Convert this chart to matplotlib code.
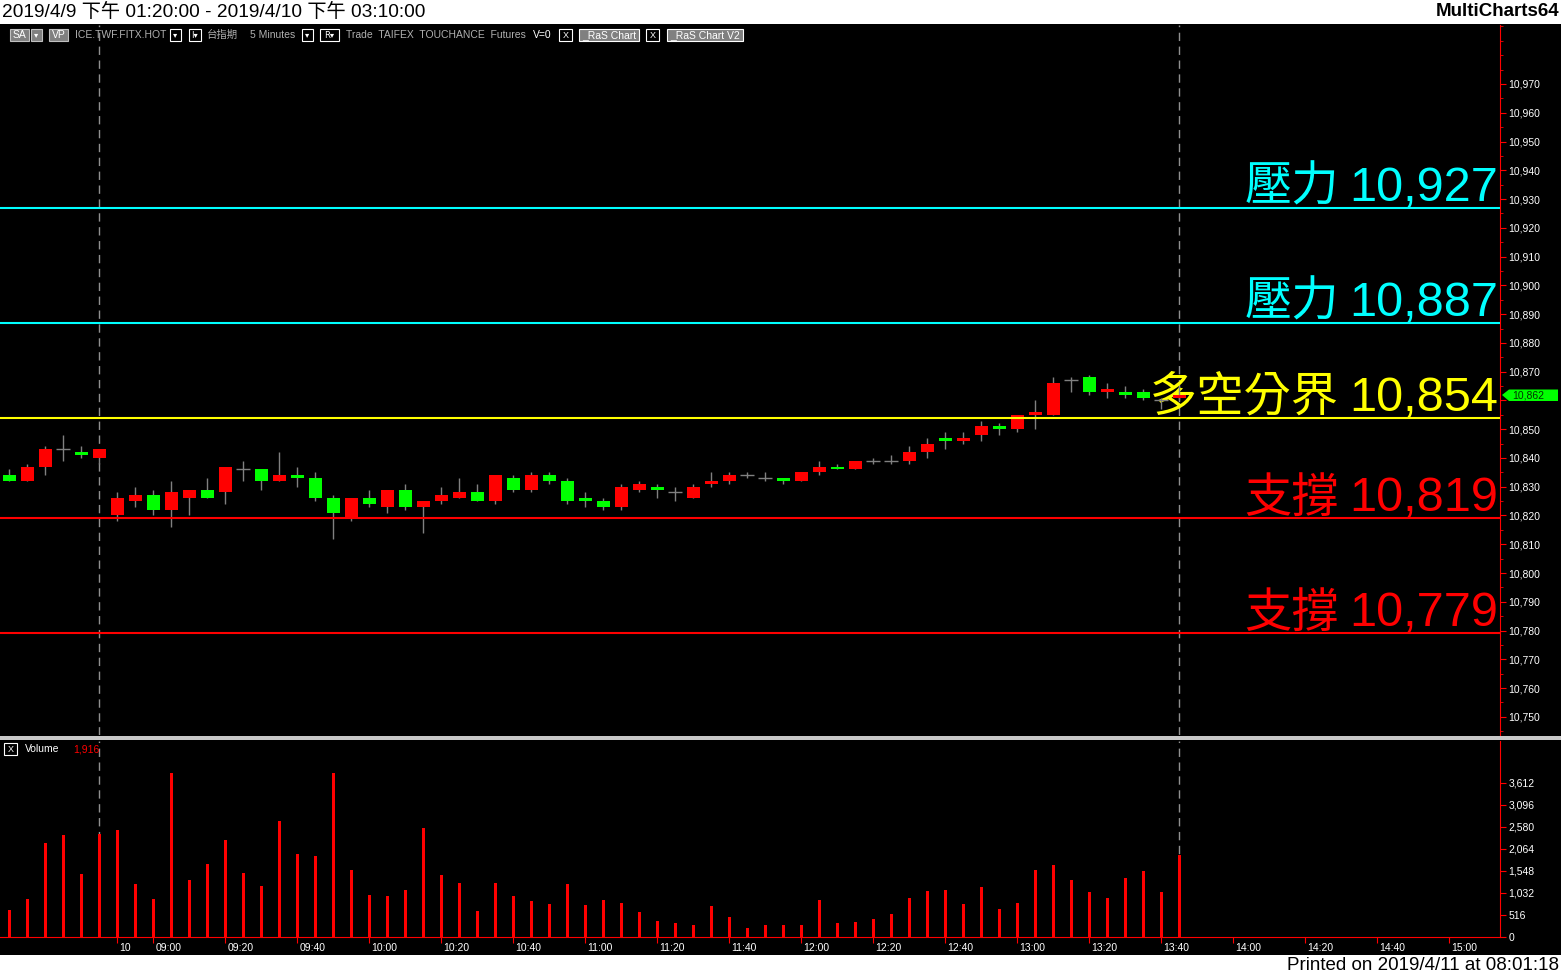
import matplotlib
matplotlib.use('Agg')
import matplotlib.pyplot as plt
from matplotlib.patches import Rectangle, Polygon
from matplotlib.ticker import FixedLocator, MultipleLocator

plt.rcParams['font.family'] = ['Liberation Sans', 'Noto Sans CJK TC', 'DejaVu Sans']

W, H = 1561, 977

# 5分K (台指期), 2019/4/9 13:20 ~ 2019/4/10 13:45
opens = [10834, 10832, 10837, 10843, 10842, 10840, 10820, 10825, 10827, 10822,
         10826, 10829, 10828, 10836, 10836, 10832, 10834, 10833, 10826, 10819,
         10826, 10823, 10829, 10823, 10825, 10826, 10828, 10825, 10833, 10829,
         10834, 10832, 10826, 10825, 10823, 10829, 10830, 10828, 10826, 10831,
         10832, 10834, 10833, 10833, 10832, 10835, 10837, 10836, 10839, 10839,
         10839, 10842, 10847, 10846, 10848, 10851, 10850, 10855, 10855, 10867,
         10868, 10863, 10863, 10863, 10860, 10861]
highs = [10836, 10838, 10844, 10848, 10844, 10843, 10828, 10830, 10829, 10832,
         10829, 10833, 10837, 10839, 10836, 10842, 10837, 10835, 10827, 10826,
         10829, 10829, 10831, 10825, 10830, 10833, 10831, 10834, 10834, 10835,
         10835, 10833, 10828, 10826, 10831, 10832, 10831, 10830, 10831, 10835,
         10835, 10835, 10835, 10833, 10835, 10839, 10838, 10839, 10840, 10841,
         10844, 10847, 10849, 10849, 10853, 10852, 10855, 10860, 10868, 10868,
         10869, 10866, 10865, 10864, 10861, 10865]
lows = [10832, 10832, 10834, 10839, 10840, 10838, 10818, 10823, 10820, 10816,
        10820, 10826, 10824, 10832, 10829, 10832, 10830, 10825, 10812, 10818,
        10823, 10821, 10822, 10814, 10824, 10826, 10825, 10824, 10828, 10828,
        10831, 10824, 10823, 10822, 10822, 10828, 10826, 10825, 10826, 10830,
        10831, 10833, 10832, 10831, 10832, 10834, 10836, 10836, 10838, 10838,
        10838, 10840, 10843, 10845, 10846, 10848, 10849, 10850, 10855, 10863,
        10862, 10861, 10861, 10860, 10857, 10860]
closes = [10832, 10837, 10843, 10843, 10841, 10843, 10826, 10827, 10822, 10828,
          10829, 10826, 10837, 10836, 10832, 10834, 10833, 10826, 10821, 10826,
          10824, 10829, 10823, 10825, 10827, 10828, 10825, 10834, 10829, 10834,
          10832, 10825, 10825, 10823, 10830, 10831, 10829, 10828, 10830, 10832,
          10834, 10834, 10833, 10832, 10835, 10837, 10836, 10839, 10839, 10839,
          10842, 10845, 10846, 10847, 10851, 10850, 10855, 10856, 10866, 10867,
          10863, 10864, 10862, 10861, 10860, 10862]
volumes = [639, 896, 2207, 2394, 1481, 2417, 2511, 1247, 896, 3845,
           1341, 1715, 2277, 1505, 1200, 2721, 1949, 1902, 3845, 1575,
           990, 966, 1107, 2558, 1458, 1271, 615, 1271, 966, 849,
           779, 1247, 756, 873, 803, 592, 381, 335, 288, 732,
           475, 218, 288, 288, 288, 873, 335, 358, 428, 545,
           920, 1083, 1107, 779, 1177, 662, 803, 1575, 1692, 1341,
           1060, 920, 1388, 1551, 1060, 1916]

time_ticks = [6, 8, 12, 16, 20, 24, 28, 32, 36, 40, 44, 48, 52, 56, 60, 64, 68, 72, 76, 80]
time_labels = ['10', '09:00', '09:20', '09:40', '10:00', '10:20', '10:40', '11:00',
               '11:20', '11:40', '12:00', '12:20', '12:40', '13:00', '13:20', '13:40',
               '14:00', '14:20', '14:40', '15:00']
session_lines = [5, 65]

levels = [10927, 10887, 10854, 10819, 10779]
level_names = ['壓力', '壓力', '多空分界', '支撐', '支撐']
level_colors = ['#00FFFF', '#00FFFF', '#FFFF00', '#FF0000', '#FF0000']

price_ticks = list(range(10750, 10971, 10))
vol_ticks = [0, 516, 1032, 1548, 2064, 2580, 3096, 3612]
last_price = 10862
last_volume = 1916


def fx(x):
    return x / W


def fy(y):
    return 1 - y / H


def add_ax(x0, y0, x1, y1):
    return fig.add_axes([fx(x0), fy(y1), (x1 - x0) / W, (y1 - y0) / H])


def fbox(x0, y0, x1, y1, fc, ec='white', lw=0.8):
    fig.add_artist(Rectangle((fx(x0), fy(y1)), (x1 - x0) / W, (y1 - y0) / H,
                             transform=fig.transFigure, facecolor=fc, edgecolor=ec, lw=lw))


def ftext(x, y, s, **kw):
    kw.setdefault('va', 'center')
    kw.setdefault('fontsize', 7.5)
    fig.text(fx(x), fy(y), s, **kw)


def xd(px):
    # pixel -> bar index
    return (px - 9.3) / 18.0


fig = plt.figure(figsize=(W / 100, H / 100), dpi=100, facecolor='white')
fig.add_artist(Rectangle((0, fy(955)), 1, fy(24) - fy(955), transform=fig.transFigure,
                         facecolor='black', edgecolor='none', zorder=0))

# ---- 價格區 ----
ax = add_ax(0, 25, 1500, 735)
ax.set_facecolor('black')
ax.set_xlim(xd(0), xd(1500))
ax.set_ylim(10743.7, 10990.5)

for i in range(len(opens)):
    o, h, l, c = opens[i], highs[i], lows[i], closes[i]
    ax.vlines(i, l, h, color='#808080', lw=1, zorder=3)
    if o == c:
        ax.hlines(o, i - 0.38, i + 0.38, color='#808080', lw=1, zorder=3.5)
    else:
        col = '#FF0000' if c > o else '#00FF00'
        ax.bar(i, abs(c - o), bottom=min(o, c), width=0.72, color=col, lw=0, zorder=3.5)

for lv, nm, col in zip(levels, level_names, level_colors):
    ax.axhline(lv, color=col, lw=1.5, zorder=4)
    yb = lv + 7 / 2.877
    ax.text(xd(1498), yb, f'{lv:,}', ha='right', va='baseline', fontsize=35, color=col,
            family=['Liberation Sans'], zorder=2.5)
    ax.text(xd(1339), yb, nm, ha='right', va='baseline', fontsize=34, color=col,
            family=['Noto Sans CJK TC'], zorder=2.5)

for s in session_lines:
    ax.axvline(s, color='#909090', lw=1, ls=(0, (6, 4)), zorder=1)

for sp in ['top', 'left', 'bottom']:
    ax.spines[sp].set_visible(False)
ax.spines['right'].set_color('#FF0000')
ax.yaxis.tick_right()
ax.yaxis.set_major_locator(FixedLocator(price_ticks))
ax.yaxis.set_minor_locator(MultipleLocator(5))
# 10,860 被最新價標籤蓋住
ax.set_yticklabels(['' if p == 10860 else f'{p:,}' for p in price_ticks])
ax.tick_params(axis='y', which='major', colors='#FF0000', labelcolor='white', labelsize=7.5,
               length=4, pad=2)
ax.tick_params(axis='y', which='minor', colors='#FF0000', length=2)
ax.set_xticks([])

# 最新價標籤
fig.add_artist(Polygon([(fx(1502), fy(395)), (fx(1509), fy(389.5)), (fx(1558), fy(389.5)),
                        (fx(1558), fy(401)), (fx(1509), fy(401))], closed=True,
                       transform=fig.transFigure, facecolor='#00FF00', edgecolor='none', zorder=6))
ftext(1512, 395.5, f'{last_price:,}', color='#003300', fontsize=7.5, zorder=7)

# 分隔線
fbox(0, 736, W, 740, '#C8C8C8', ec='none')

# ---- 成交量 ----
axv = add_ax(0, 741, 1500, 937)
axv.set_facecolor('black')
axv.set_xlim(xd(0), xd(1500))
axv.set_ylim(0, 4586)
axv.bar(range(len(volumes)), volumes, width=0.17, color='#FF0000', zorder=3)
for s in session_lines:
    axv.axvline(s, color='#909090', lw=1, ls=(0, (6, 4)), zorder=1)
for sp in ['top', 'left']:
    axv.spines[sp].set_visible(False)
axv.spines['right'].set_color('#FF0000')
axv.spines['bottom'].set_color('#FF0000')
axv.yaxis.tick_right()
axv.set_yticks(vol_ticks)
axv.set_yticklabels([f'{v:,}' for v in vol_ticks])
axv.tick_params(axis='y', colors='#FF0000', labelcolor='white', labelsize=7.5, length=4, pad=2)
axv.set_xticks(time_ticks)
axv.set_xticklabels([])
axv.tick_params(axis='x', colors='#FF0000', length=4, direction='out')
for t, lab in zip(time_ticks, time_labels):
    axv.text(t + 2 / 18, -0.055, lab, transform=axv.get_xaxis_transform(), ha='left',
             va='center', color='white', fontsize=7.5)

# 成交量標題
fbox(4, 743, 17, 755, 'black')
ftext(10.5, 749, 'X', ha='center', color='white', fontsize=6.5)
ftext(25, 749, 'Volume', color='white')
ftext(73, 749, f'{last_volume:,}', color='#FF0000')

# ---- 工具列 ----
fbox(10, 29, 29, 41, '#808080', ec='#C0C0C0')
ftext(19.5, 35, 'SA', ha='center', color='white')
fbox(31, 29, 42, 41, '#808080', ec='#C0C0C0')
ftext(36.5, 35, '▾', ha='center', color='white', family=['DejaVu Sans'], fontsize=6)
fbox(49, 29, 68, 41, '#808080', ec='#C0C0C0')
ftext(58.5, 35, 'VP', ha='center', color='white')
ftext(75, 35, 'ICE.TWF.FITX.HOT', color='#B0B0B0')
fbox(170, 29, 181, 41, 'black')
ftext(175.5, 35, '▾', ha='center', color='white', family=['DejaVu Sans'], fontsize=6)
fbox(189, 29, 201, 41, 'black')
ftext(195, 35, 'I▾', ha='center', color='white', family=['DejaVu Sans'], fontsize=6)
ftext(207, 35, '台指期', color='#B0B0B0')
ftext(250, 35, '5 Minutes', color='#B0B0B0')
fbox(302, 29, 313, 41, 'black')
ftext(307.5, 35, '▾', ha='center', color='white', family=['DejaVu Sans'], fontsize=6)
fbox(320, 29, 339, 41, 'black')
ftext(329.5, 35, 'R▾', ha='center', color='white', family=['DejaVu Sans'], fontsize=6)
ftext(346, 35, 'Trade  TAIFEX  TOUCHANCE  Futures', color='#B0B0B0')
ftext(533, 35, 'V=0', color='white')
fbox(559, 29, 572, 41, 'black')
ftext(565.5, 35, 'X', ha='center', color='white', fontsize=6.5)
fbox(579, 29, 639, 41, '#808080')
ftext(609, 35, '_RaS Chart', ha='center', color='white')
fbox(646, 29, 659, 41, 'black')
ftext(652.5, 35, 'X', ha='center', color='white', fontsize=6.5)
fbox(667, 29, 743, 41, '#808080')
ftext(705, 35, '_RaS Chart V2', ha='center', color='white')

# ---- 標題 / 頁尾 ----
ftext(2, 12, '2019/4/9 下午 01:20:00 - 2019/4/10 下午 03:10:00', color='black', fontsize=13.8,
      family=['Liberation Sans', 'Noto Sans CJK TC'])
ftext(1559, 12, 'MultiCharts64', ha='right', color='black', fontsize=13.5, fontweight='bold')
ftext(1559, 966, 'Printed on 2019/4/11 at 08:01:18', ha='right', color='black', fontsize=13.5)

fig.savefig('out.png', dpi=100, facecolor='white')
